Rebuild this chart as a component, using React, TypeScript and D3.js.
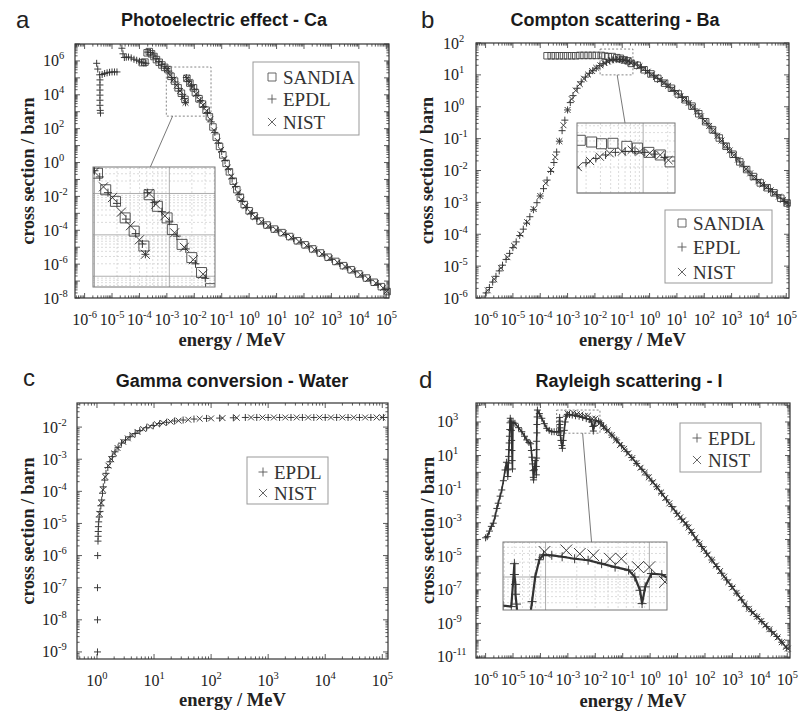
import React from "react";
import * as d3 from "d3";

// All values: [log10(energy / MeV), log10(cross section / barn)].
type P = [number, number];

// ---------------- a: Photoelectric effect - Ca ----------------
const aSandia: P[] = [
  [-3.9, 5.9], [-3.8, 5.93], [-3.72, 6.48], [-3.64, 6.55], [-3.56, 6.42], [-3.47, 6.26], [-3.38, 6.08], [-3.28, 5.92], [-3.18, 5.76], [-3.08, 5.62],
  [-2.96, 5.49], [-2.85, 5.09], [-2.72, 4.81], [-2.59, 4.41], [-2.47, 4.09], [-2.34, 3.73],
  [-2.27, 4.97], [-2.16, 4.69], [-2.03, 4.41], [-1.96, 4.13], [-1.83, 3.77], [-1.7, 3.45], [-1.57, 3.09],
  [-1.45, 2.7], [-1.32, 2.1], [-1.2, 1.5], [-1.08, 0.95], [-0.96, 0.45], [-0.84, -0.05], [-0.72, -0.55], [-0.58, -1.1], [-0.45, -1.6],
  [-0.32, -2.05], [-0.18, -2.48], [0.0, -2.85], [0.18, -3.15], [0.4, -3.45], [0.65, -3.69], [0.92, -3.93], [1.2, -4.14], [1.48, -4.37],
  [1.76, -4.62], [2.04, -4.86], [2.32, -5.1], [2.6, -5.34], [2.88, -5.59], [3.16, -5.84], [3.44, -6.09], [3.72, -6.33], [4.0, -6.58],
  [4.28, -6.82], [4.56, -7.07], [4.82, -7.33], [5.03, -7.62],
];
const aEpdl: P[] = [
  [-5.56, 5.86], [-5.52, 5.52], [-5.45, 5.18], [-5.44, 4.88], [-5.44, 4.58], [-5.44, 4.28], [-5.44, 3.98], [-5.44, 3.68], [-5.44, 3.38], [-5.43, 3.08], [-5.42, 2.92],
  [-5.36, 5.2], [-5.27, 5.26], [-5.18, 5.3], [-5.09, 5.33], [-5.0, 5.35], [-4.91, 5.35], [-4.82, 5.35],
  [-4.64, 6.75], [-4.6, 6.42], [-4.55, 6.2], [-4.48, 6.22], [-4.4, 6.23], [-4.3, 6.18], [-4.2, 6.1], [-4.1, 6.04], [-4.0, 5.98], [-3.92, 5.92], [-3.84, 5.88], [-3.76, 5.86],
  [-3.7, 6.52], [-3.6, 6.5], [-3.5, 6.35], [-3.4, 6.15], [-3.3, 5.97], [-3.2, 5.8], [-3.1, 5.66], [-3.0, 5.55],
  [-2.93, 5.4], [-2.82, 5.02], [-2.7, 4.76], [-2.58, 4.38], [-2.45, 4.03], [-2.36, 3.78], [-2.32, 3.53],
  [-2.29, 5.02], [-2.2, 4.78], [-2.1, 4.56], [-2.0, 4.33], [-1.9, 3.97], [-1.78, 3.66], [-1.65, 3.3], [-1.52, 2.95],
  [-1.38, 2.4], [-1.25, 1.78], [-1.12, 1.15], [-1.0, 0.65], [-0.88, 0.12], [-0.76, -0.4], [-0.62, -0.95], [-0.5, -1.42], [-0.37, -1.88],
  [-0.25, -2.3], [-0.1, -2.65], [0.08, -3.0], [0.28, -3.3], [0.52, -3.58], [0.78, -3.82], [1.06, -4.04], [1.34, -4.25], [1.62, -4.5],
  [1.9, -4.74], [2.18, -4.98], [2.46, -5.22], [2.74, -5.46], [3.02, -5.72], [3.3, -5.96], [3.58, -6.21], [3.86, -6.45], [4.14, -6.7],
  [4.42, -6.95], [4.7, -7.2], [4.95, -7.5],
];
const aNist: P[] = [
  [-3.0, 5.52], [-2.88, 5.16], [-2.76, 4.9], [-2.64, 4.55], [-2.52, 4.22], [-2.4, 3.88], [-2.32, 3.53],
  [-2.27, 5.0], [-2.18, 4.74], [-2.06, 4.46], [-1.93, 4.05], [-1.8, 3.7], [-1.68, 3.4], [-1.55, 3.05],
  [-1.42, 2.55], [-1.28, 1.9], [-1.15, 1.28], [-1.02, 0.75], [-0.9, 0.22], [-0.78, -0.3], [-0.65, -0.82], [-0.52, -1.35], [-0.4, -1.78],
  [-0.28, -2.2], [-0.14, -2.58], [0.04, -2.92], [0.22, -3.22], [0.45, -3.5], [0.7, -3.74], [0.98, -3.97], [1.26, -4.18], [1.54, -4.42],
  [1.82, -4.67], [2.1, -4.91], [2.38, -5.15], [2.66, -5.4], [2.94, -5.64], [3.22, -5.89], [3.5, -6.14], [3.78, -6.38], [4.06, -6.63],
  [4.34, -6.87], [4.62, -7.12], [4.88, -7.4], [5.02, -7.6],
];

// ---------------- b: Compton scattering - Ba ----------------
const bSandia: P[] = [
  [-3.75, 1.6], [-3.6, 1.6], [-3.45, 1.6], [-3.3, 1.6], [-3.15, 1.6], [-3.0, 1.6], [-2.85, 1.6], [-2.7, 1.6], [-2.55, 1.61], [-2.4, 1.61],
  [-2.25, 1.61], [-2.1, 1.61], [-1.95, 1.61], [-1.77, 1.61], [-1.63, 1.59], [-1.51, 1.57], [-1.37, 1.575], [-1.2, 1.54], [-1.07, 1.52],
  [-0.93, 1.47], [-0.79, 1.44], [-0.67, 1.36], [-0.45, 1.3], [-0.2, 1.16], [0.05, 1.03], [0.3, 0.89], [0.55, 0.74], [0.8, 0.58],
  [1.05, 0.4], [1.3, 0.22], [1.55, 0.02], [1.8, -0.22], [2.05, -0.47], [2.3, -0.72], [2.55, -0.98], [2.8, -1.24], [3.05, -1.49],
  [3.3, -1.73], [3.55, -1.97], [3.8, -2.19], [4.05, -2.39], [4.3, -2.54], [4.55, -2.7], [4.8, -2.87], [5.03, -3.02],
];
const bEpdl: P[] = [
  [-5.98, -5.84], [-5.86, -5.67], [-5.74, -5.5], [-5.62, -5.32], [-5.5, -5.15], [-5.38, -4.97], [-5.25, -4.79], [-5.12, -4.6], [-5.0, -4.42],
  [-4.88, -4.24], [-4.75, -4.04], [-4.62, -3.84], [-4.5, -3.65], [-4.38, -3.45], [-4.25, -3.23], [-4.12, -3.01], [-4.0, -2.8], [-3.88, -2.57],
  [-3.75, -2.3], [-3.62, -2.03], [-3.5, -1.75], [-3.4, -1.42], [-3.3, -1.08], [-3.2, -0.75], [-3.1, -0.42], [-3.0, -0.1], [-2.9, 0.13],
  [-2.8, 0.35], [-2.65, 0.58], [-2.5, 0.78], [-2.35, 0.93], [-2.2, 1.05], [-2.08, 1.13], [-1.95, 1.21], [-1.82, 1.29], [-1.7, 1.35],
  [-1.58, 1.4], [-1.46, 1.44], [-1.34, 1.47], [-1.22, 1.48], [-1.1, 1.48], [-0.98, 1.47], [-0.86, 1.45], [-0.74, 1.41], [-0.6, 1.37],
  [-0.45, 1.31], [-0.3, 1.23], [-0.15, 1.14], [0.0, 1.06], [0.15, 0.97], [0.3, 0.89], [0.45, 0.8], [0.6, 0.71], [0.75, 0.61], [0.9, 0.51],
  [1.05, 0.4], [1.2, 0.29], [1.35, 0.18], [1.5, 0.06], [1.65, -0.07], [1.8, -0.22], [1.95, -0.37], [2.1, -0.52], [2.25, -0.67], [2.4, -0.83],
  [2.55, -0.98], [2.7, -1.14], [2.85, -1.29], [3.0, -1.44], [3.15, -1.59], [3.3, -1.73], [3.45, -1.88], [3.6, -2.02], [3.75, -2.16],
  [3.9, -2.28], [4.05, -2.39], [4.2, -2.48], [4.35, -2.57], [4.5, -2.67], [4.65, -2.76], [4.8, -2.87], [4.95, -2.97], [5.03, -3.02],
];
const bNist: P[] = [
  [-5.92, -5.76], [-5.68, -5.41], [-5.44, -5.06], [-5.2, -4.72], [-4.96, -4.36], [-4.72, -4.0], [-4.48, -3.62], [-4.24, -3.21], [-4.0, -2.8],
  [-3.8, -2.4], [-3.6, -1.98], [-3.45, -1.58], [-3.3, -1.08], [-3.15, -0.58], [-3.0, -0.1], [-2.85, 0.24], [-2.7, 0.51], [-2.55, 0.71],
  [-2.4, 0.88], [-2.25, 1.01], [-2.1, 1.12], [-1.95, 1.22], [-1.8, 1.3], [-1.65, 1.37], [-1.53, 1.42], [-1.41, 1.46], [-1.26, 1.48],
  [-1.14, 1.5], [-1.04, 1.48], [-0.92, 1.46], [-0.79, 1.44], [-0.69, 1.38], [-0.52, 1.34], [-0.37, 1.27], [-0.22, 1.18], [-0.07, 1.1],
  [0.08, 1.01], [0.23, 0.93], [0.38, 0.84], [0.53, 0.75], [0.68, 0.66], [0.83, 0.56], [0.98, 0.45], [1.13, 0.34], [1.28, 0.23], [1.43, 0.12],
  [1.58, -0.01], [1.73, -0.15], [1.88, -0.3], [2.03, -0.45], [2.18, -0.6], [2.33, -0.75], [2.48, -0.91], [2.63, -1.06], [2.78, -1.22],
  [2.93, -1.37], [3.08, -1.52], [3.23, -1.66], [3.38, -1.81], [3.53, -1.95], [3.68, -2.09], [3.83, -2.22], [3.98, -2.34], [4.13, -2.44],
  [4.28, -2.53], [4.43, -2.62], [4.58, -2.72], [4.73, -2.82], [4.88, -2.92], [5.02, -3.01],
];

// ---------------- c: Gamma conversion - Water ----------------
const cEpdl: P[] = [
  [0.009, -9.0], [0.009, -8.0], [0.009, -7.0], [0.012, -6.0], [0.018, -5.55], [0.02, -5.4], [0.022, -5.25], [0.025, -5.1], [0.03, -4.95],
  [0.04, -4.8], [0.053, -4.63], [0.068, -4.45], [0.083, -4.27], [0.097, -4.06], [0.111, -3.86], [0.135, -3.65], [0.158, -3.44], [0.19, -3.26],
  [0.228, -3.08], [0.27, -2.92], [0.316, -2.77], [0.37, -2.63], [0.43, -2.5], [0.5, -2.4], [0.58, -2.3], [0.67, -2.2], [0.75, -2.11],
  [0.87, -2.02], [0.987, -1.95], [1.1, -1.89], [1.22, -1.85], [1.36, -1.81], [1.51, -1.78], [1.7, -1.75], [1.92, -1.73], [2.15, -1.72],
  [2.39, -1.71], [2.6, -1.7], [2.8, -1.7], [3.0, -1.7], [3.2, -1.7], [3.4, -1.7], [3.6, -1.7], [3.8, -1.7], [4.0, -1.7], [4.2, -1.7],
  [4.4, -1.7], [4.6, -1.7], [4.8, -1.7], [5.02, -1.7],
];
const cNist: P[] = [
  [0.045, -4.7], [0.075, -4.36], [0.105, -3.95], [0.145, -3.55], [0.2, -3.2], [0.25, -3.0], [0.3, -2.82], [0.36, -2.65], [0.46, -2.46],
  [0.54, -2.35], [0.62, -2.25], [0.71, -2.15], [0.81, -2.06], [0.93, -1.98], [1.05, -1.91], [1.16, -1.87], [1.29, -1.83], [1.43, -1.8],
  [1.6, -1.77], [1.8, -1.74], [2.0, -1.73], [2.2, -1.72], [2.45, -1.71], [2.7, -1.7], [2.9, -1.7], [3.1, -1.7], [3.3, -1.7], [3.5, -1.7],
  [3.7, -1.7], [3.9, -1.7], [4.1, -1.7], [4.3, -1.7], [4.5, -1.7], [4.7, -1.7], [4.9, -1.7], [5.0, -1.7],
];

// ---------------- d: Rayleigh scattering - I ----------------
const dEpdl: P[] = [
  [-6.0, -3.9], [-5.94, -3.83], [-5.86, -3.5], [-5.79, -3.22], [-5.72, -3.03], [-5.65, -2.6], [-5.59, -2.15], [-5.54, -1.84], [-5.47, -1.42],
  [-5.41, -1.05], [-5.35, -0.5], [-5.29, 0.14], [-5.24, 0.6],
  [-5.19, -0.25], [-5.18, 0.15], [-5.17, 0.55], [-5.16, 0.95], [-5.15, 1.35], [-5.14, 1.75], [-5.13, 2.15], [-5.12, 2.55], [-5.11, 2.95],
  [-5.1, 3.22], [-5.07, 3.05], [-5.06, 2.5], [-5.05, 1.9], [-5.04, 1.3], [-5.03, 0.7], [-5.02, 0.2], [-5.0, 2.98],
  [-4.93, 2.92], [-4.8, 2.66], [-4.68, 2.42], [-4.58, 2.15], [-4.5, 1.93], [-4.42, 1.78],
  [-4.36, 1.7], [-4.33, 1.3], [-4.31, 0.9], [-4.29, 0.5], [-4.27, 0.1], [-4.26, -0.3], [-4.25, -0.45], [-4.22, 0.15], [-4.19, 0.7],
  [-4.15, -0.15], [-4.15, 0.35], [-4.14, 0.85], [-4.14, 1.35], [-4.14, 1.85], [-4.13, 2.35], [-4.13, 2.85], [-4.12, 3.3], [-4.11, 3.71],
  [-4.04, 3.5], [-3.95, 3.22], [-3.86, 2.9], [-3.77, 2.62], [-3.68, 2.5], [-3.59, 2.42], [-3.5, 2.42], [-3.41, 2.42], [-3.33, 2.4],
  [-3.3, 3.27], [-3.3, 3.05], [-3.29, 2.85], [-3.29, 2.65], [-3.28, 2.45], [-3.27, 2.2], [-3.25, 1.9], [-3.22, 1.6], [-3.2, 1.43],
  [-3.17, 1.9], [-3.13, 2.5], [-3.1, 3.0], [-3.06, 3.35], [-3.02, 3.45], [-2.94, 3.44], [-2.84, 3.41], [-2.72, 3.37], [-2.59, 3.34],
  [-2.46, 3.27], [-2.33, 3.2], [-2.2, 3.14], [-2.14, 3.0], [-2.09, 2.73], [-2.07, 2.46], [-2.04, 2.8], [-1.98, 3.07], [-1.88, 3.05],
  [-1.8, 2.95], [-1.7, 2.75], [-1.58, 2.52], [-1.4, 2.22], [-1.22, 1.93], [-1.04, 1.58], [-0.85, 1.23], [-0.67, 0.88], [-0.49, 0.53],
  [-0.3, 0.18], [-0.12, -0.16], [0.06, -0.51], [0.24, -0.86], [0.42, -1.25], [0.6, -1.64], [0.79, -2.04], [0.97, -2.44], [1.15, -2.79],
  [1.33, -3.13], [1.52, -3.58], [1.7, -4.02], [1.88, -4.42], [2.06, -4.82], [2.25, -5.22], [2.43, -5.61], [2.61, -6.01], [2.79, -6.41],
  [2.98, -6.8], [3.16, -7.2], [3.34, -7.6], [3.52, -8.0], [3.7, -8.3], [3.89, -8.59], [4.07, -8.89], [4.25, -9.19], [4.43, -9.49],
  [4.62, -9.78], [4.8, -10.12], [4.98, -10.47],
];
const dNist: P[] = [
  [-3.01, 3.51], [-2.8, 3.54], [-2.67, 3.47], [-2.54, 3.44], [-2.38, 3.37], [-2.27, 3.37], [-2.11, 3.2], [-2.0, 3.2], [-1.85, 2.9],
  [-1.7, 2.68], [-1.55, 2.5], [-1.4, 2.22], [-1.25, 1.9], [-1.1, 1.62], [-0.95, 1.4], [-0.8, 1.13], [-0.65, 0.85], [-0.5, 0.55],
  [-0.35, 0.27], [-0.2, -0.02], [-0.05, -0.3], [0.1, -0.59], [0.25, -0.88], [0.4, -1.2], [0.55, -1.53], [0.7, -1.85], [0.85, -2.18],
  [1.0, -2.5], [1.1, -2.68], [1.2, -2.86], [1.3, -3.06], [1.4, -3.29], [1.5, -3.53], [1.65, -3.9], [1.8, -4.25], [1.95, -4.58],
  [2.1, -4.9], [2.25, -5.22], [2.4, -5.55], [2.55, -5.88], [2.7, -6.21], [2.85, -6.54], [3.0, -6.86], [3.15, -7.18], [3.3, -7.5],
  [3.45, -7.84], [3.6, -8.13], [3.75, -8.37], [3.9, -8.6], [4.05, -8.86], [4.2, -9.11], [4.35, -9.35], [4.5, -9.59], [4.65, -9.83],
  [4.8, -10.12], [4.95, -10.4], [5.02, -10.5],
];

// ---------------- tick label exponents ----------------
const xExpWide = [-6, -5, -4, -3, -2, -1, 0, 1, 2, 3, 4, 5];
const xExpC = [0, 1, 2, 3, 4, 5];
const yExpA = [-8, -6, -4, -2, 0, 2, 4, 6];
const yExpB = [-6, -5, -4, -3, -2, -1, 0, 1, 2];
const yExpC = [-9, -8, -7, -6, -5, -4, -3, -2];
const yExpD = [-11, -9, -7, -5, -3, -1, 1, 3];

const titles = ["Photoelectric effect - Ca", "Compton scattering - Ba", "Gamma conversion - Water", "Rayleigh scattering - I"];
const letters = ["a", "b", "c", "d"];

// zoom windows of the insets (log10 E, log10 sigma)
const aZoomE: [number, number] = [-3.02, -1.39];
const aZoomS: [number, number] = [2.74, 5.64];
const bZoomE: [number, number] = [-1.81, -0.61];
const bZoomS: [number, number] = [1.0, 1.81];
const dZoomE: [number, number] = [-3.41, -1.83];
const dZoomS: [number, number] = [2.33, 3.71];

// ---------------- drawing helpers ----------------
type Kind = "square" | "plus" | "cross";
const SERIF = "'Liberation Serif', 'Times New Roman', serif";
const SANS = "'Liberation Sans', Arial, sans-serif";
const INK = "#333";

function mk(kind: Kind, x: number, y: number, s: number): string {
  const h = s / 2;
  if (kind === "square") return `M${x - h},${y - h}h${s}v${s}h${-s}Z`;
  if (kind === "plus") return `M${x - h},${y}h${s}M${x},${y - h}v${s}`;
  const c = h * 0.9;
  return `M${x - c},${y - c}L${x + c},${y + c}M${x - c},${y + c}L${x + c},${y - c}`;
}

function logTicks(lo: number, hi: number) {
  const major: number[] = [];
  const minor: number[] = [];
  for (let k = Math.floor(lo); k <= Math.ceil(hi); k++) {
    if (k >= lo - 1e-9 && k <= hi + 1e-9) major.push(k);
    for (let m = 2; m <= 9; m++) {
      const v = k + Math.log10(m);
      if (v > lo && v < hi) minor.push(v);
    }
  }
  return { major, minor };
}

interface Frame { x0: number; x1: number; y0: number; y1: number; }
interface Series { kind: Kind; data: P[]; size: number; insetSize: number; stroke: string; width: number; line?: boolean; }
interface InsetCfg { frame: Frame; xd: [number, number]; yd: [number, number]; fb: number; fi: number; }
interface LegendCfg { box: { x: number; y: number; w: number; h: number }; entries: { kind: Kind; label: string; y: number }[]; mx: number; tx: number; }
interface PanelCfg {
  id: string; frame: Frame; xd: [number, number]; yd: [number, number];
  xExp: number[]; yExp: number[]; series: Series[]; inset?: InsetCfg; legend: LegendCfg;
  title: string; titleX: number; titleY: number; letter: string; letterX: number; letterY: number;
  yTitleX: number; xTitleY: number; yLabelX: number;
}

function scales(f: Frame, xd: [number, number], yd: [number, number]) {
  const x = d3.scaleLog().domain([10 ** xd[0], 10 ** xd[1]]).range([f.x0, f.x1]);
  const y = d3.scaleLog().domain([10 ** yd[0], 10 ** yd[1]]).range([f.y1, f.y0]);
  return { x, y };
}

function SeriesMarks({ s, x, y, inset }: { s: Series; x: any; y: any; inset: boolean }) {
  const size = inset ? s.insetSize : s.size;
  const d = s.data.map((p) => mk(s.kind, x(10 ** p[0]), y(10 ** p[1]), size)).join("");
  const line = s.line
    ? d3.line<P>().x((p) => x(10 ** p[0])).y((p) => y(10 ** p[1]))(s.data) || ""
    : "";
  return (
    <g>
      {s.line && <path d={line} fill="none" stroke={s.stroke} strokeWidth={inset ? 2.2 : 1.6} strokeLinejoin="round" />}
      <path d={d} fill="none" stroke={s.stroke} strokeWidth={s.width} />
    </g>
  );
}

function Ticks({ f, xd, yd, x, y }: { f: Frame; xd: [number, number]; yd: [number, number]; x: any; y: any }) {
  const xt = logTicks(xd[0], xd[1]);
  const yt = logTicks(yd[0], yd[1]);
  let d = "";
  const M = 5, m = 2.6;
  xt.major.forEach((k) => { const X = x(10 ** k); d += `M${X},${f.y1}v${-M}M${X},${f.y0}v${M}`; });
  xt.minor.forEach((k) => { const X = x(10 ** k); d += `M${X},${f.y1}v${-m}M${X},${f.y0}v${m}`; });
  yt.major.forEach((k) => { const Y = y(10 ** k); d += `M${f.x0},${Y}h${M}M${f.x1},${Y}h${-M}`; });
  yt.minor.forEach((k) => { const Y = y(10 ** k); d += `M${f.x0},${Y}h${m}M${f.x1},${Y}h${-m}`; });
  return <path d={d} stroke="#333" strokeWidth={0.8} fill="none" />;
}

function Pow({ x, y, e, anchor }: { x: number; y: number; e: number; anchor: "middle" | "start" }) {
  return (
    <text x={x} y={y} textAnchor={anchor} fontFamily={SERIF} fontSize={16} fill="#222">
      10<tspan dy={-7} fontSize={10.5}>{String(e)}</tspan>
    </text>
  );
}

function Inset({ cfg, mainX, mainY, series, id }: { cfg: InsetCfg; mainX: any; mainY: any; series: Series[]; id: string }) {
  const f = cfg.frame;
  const { x, y } = scales(f, cfg.xd, cfg.yd);
  const bx0 = mainX(10 ** cfg.xd[0]), bx1 = mainX(10 ** cfg.xd[1]);
  const by0 = mainY(10 ** cfg.yd[1]), by1 = mainY(10 ** cfg.yd[0]);
  const xt = logTicks(cfg.xd[0], cfg.xd[1]);
  const yt = logTicks(cfg.yd[0], cfg.yd[1]);
  return (
    <g>
      <rect x={bx0} y={by0} width={bx1 - bx0} height={by1 - by0} fill="none" stroke="#666" strokeWidth={0.8} strokeDasharray="2,2" />
      <line x1={bx0 + (bx1 - bx0) * cfg.fb} y1={by1} x2={f.x0 + (f.x1 - f.x0) * cfg.fi} y2={f.y0} stroke="#555" strokeWidth={0.8} />
      <rect x={f.x0} y={f.y0} width={f.x1 - f.x0} height={f.y1 - f.y0} fill="#fff" />
      <clipPath id={id}>
        <rect x={f.x0} y={f.y0} width={f.x1 - f.x0} height={f.y1 - f.y0} />
      </clipPath>
      <g stroke="#c4c4c4" strokeWidth={0.6} strokeDasharray="2,2">
        {xt.minor.map((k) => <line key={"vx" + k} x1={x(10 ** k)} x2={x(10 ** k)} y1={f.y0} y2={f.y1} />)}
        {yt.minor.map((k) => <line key={"hy" + k} y1={y(10 ** k)} y2={y(10 ** k)} x1={f.x0} x2={f.x1} />)}
      </g>
      <g stroke="#999" strokeWidth={0.8}>
        {xt.major.map((k) => <line key={"VX" + k} x1={x(10 ** k)} x2={x(10 ** k)} y1={f.y0} y2={f.y1} />)}
        {yt.major.map((k) => <line key={"HY" + k} y1={y(10 ** k)} y2={y(10 ** k)} x1={f.x0} x2={f.x1} />)}
      </g>
      <g clipPath={`url(#${id})`}>
        {series.map((s, i) => <SeriesMarks key={i} s={s} x={x} y={y} inset={true} />)}
      </g>
      <rect x={f.x0} y={f.y0} width={f.x1 - f.x0} height={f.y1 - f.y0} fill="none" stroke="#777" strokeWidth={1} />
    </g>
  );
}

function Legend({ cfg }: { cfg: LegendCfg }) {
  const b = cfg.box;
  return (
    <g>
      <rect x={b.x} y={b.y} width={b.w} height={b.h} fill="#fff" stroke="#999" strokeWidth={1} />
      {cfg.entries.map((e) => (
        <g key={e.label}>
          <path d={mk(e.kind, cfg.mx, e.y, e.kind === "square" ? 8 : 9)} fill="none" stroke="#555" strokeWidth={0.9} />
          <text x={cfg.tx} y={e.y + 6.5} fontFamily={SERIF} fontSize={19} fill="#333">{e.label}</text>
        </g>
      ))}
    </g>
  );
}

function Panel({ c }: { c: PanelCfg }) {
  const f = c.frame;
  const { x, y } = scales(f, c.xd, c.yd);
  const cy = (f.y0 + f.y1) / 2;
  return (
    <g>
      <clipPath id={"clip" + c.id}>
        <rect x={f.x0 - 3} y={f.y0 - 3} width={f.x1 - f.x0 + 6} height={f.y1 - f.y0 + 6} />
      </clipPath>
      <g clipPath={`url(#clip${c.id})`}>
        {c.series.map((s, i) => <SeriesMarks key={i} s={s} x={x} y={y} inset={false} />)}
      </g>
      <rect x={f.x0} y={f.y0} width={f.x1 - f.x0} height={f.y1 - f.y0} fill="none" stroke="#333" strokeWidth={1.2} />
      <Ticks f={f} xd={c.xd} yd={c.yd} x={x} y={y} />
      {c.xExp.map((e) => <Pow key={"x" + e} x={x(10 ** e)} y={f.y1 + 27} e={e} anchor="middle" />)}
      {c.yExp.map((e) => <Pow key={"y" + e} x={c.yLabelX} y={y(10 ** e) + 5.5} e={e} anchor="start" />)}
      {c.inset && <Inset cfg={c.inset} mainX={x} mainY={y} series={c.series} id={"inset" + c.id} />}
      <Legend cfg={c.legend} />
      <text x={c.titleX} y={c.titleY} textAnchor="middle" fontFamily={SANS} fontWeight="bold" fontSize={18} fill="#1a1a1a">{c.title}</text>
      <text x={c.letterX} y={c.letterY} fontFamily={SANS} fontSize={24} fill="#222">{c.letter}</text>
      <text transform={`translate(${c.yTitleX},${cy}) rotate(-90)`} textAnchor="middle" fontFamily={SERIF} fontWeight="bold" fontSize={18} fill="#222">cross section / barn</text>
      <text x={(f.x0 + f.x1) / 2} y={c.xTitleY} textAnchor="middle" fontFamily={SERIF} fontWeight="bold" fontSize={18.5} fill="#222">energy / MeV</text>
    </g>
  );
}

const SQ = (data: P[]): Series => ({ kind: "square", data, size: 6.5, insetSize: 10, stroke: "#444", width: 0.9 });
const PL = (data: P[], line = false, ins = 8): Series => ({ kind: "plus", data, size: 7, insetSize: ins, stroke: INK, width: 0.95, line });
const CR = (data: P[], ins = 9): Series => ({ kind: "cross", data, size: 6.5, insetSize: ins, stroke: INK, width: 0.95 });

const panelsCfg: PanelCfg[] = [
  {
    id: "a", frame: { x0: 75, x1: 389, y0: 44, y1: 298 }, xd: [-6.35, 5.1], yd: [-8, 7],
    xExp: xExpWide, yExp: yExpA,
    series: [SQ(aSandia), PL(aEpdl), CR(aNist, 10)],
    inset: { frame: { x0: 93, x1: 215, y0: 167, y1: 287 }, xd: aZoomE, yd: aZoomS, fb: 0.14, fi: 0.47 },
    legend: {
      box: { x: 253, y: 62, w: 106, h: 73 },
      entries: [{ kind: "square", label: "SANDIA", y: 77 }, { kind: "plus", label: "EPDL", y: 99 }, { kind: "cross", label: "NIST", y: 122 }],
      mx: 272, tx: 283,
    },
    title: titles[0], titleX: 224, titleY: 26, letter: letters[0], letterX: 16, letterY: 28, yTitleX: 34, xTitleY: 346, yLabelX: 43,
  },
  {
    id: "b", frame: { x0: 476, x1: 789, y0: 43, y1: 298 }, xd: [-6.35, 5.1], yd: [-6, 2],
    xExp: xExpWide, yExp: yExpB,
    series: [SQ(bSandia), PL(bEpdl), CR(bNist, 9)],
    inset: { frame: { x0: 577, x1: 675, y0: 123, y1: 193 }, xd: bZoomE, yd: bZoomS, fb: 0.52, fi: 0.49 },
    legend: {
      box: { x: 665, y: 210, w: 107, h: 73 },
      entries: [{ kind: "square", label: "SANDIA", y: 223 }, { kind: "plus", label: "EPDL", y: 247 }, { kind: "cross", label: "NIST", y: 272 }],
      mx: 682, tx: 693,
    },
    title: titles[1], titleX: 615, titleY: 26, letter: letters[1], letterX: 421, letterY: 28, yTitleX: 433, xTitleY: 346, yLabelX: 443,
  },
  {
    id: "c", frame: { x0: 77, x1: 388, y0: 403, y1: 659 }, xd: [-0.35, 5.1], yd: [-9.22, -1.25],
    xExp: xExpC, yExp: yExpC,
    series: [PL(cEpdl), CR(cNist)],
    legend: {
      box: { x: 247, y: 457, w: 81, h: 47 },
      entries: [{ kind: "plus", label: "EPDL", y: 472 }, { kind: "cross", label: "NIST", y: 493 }],
      mx: 263, tx: 274,
    },
    title: titles[2], titleX: 232, titleY: 387, letter: letters[2], letterX: 23, letterY: 386, yTitleX: 34, xTitleY: 706, yLabelX: 42,
  },
  {
    id: "d", frame: { x0: 476, x1: 790, y0: 403, y1: 658 }, xd: [-6.35, 5.1], yd: [-11.06, 4.13],
    xExp: xExpWide, yExp: yExpD,
    series: [PL(dEpdl, true, 9), CR(dNist, 13)],
    inset: { frame: { x0: 503, x1: 667, y0: 542, y1: 610 }, xd: dZoomE, yd: dZoomS, fb: 0.6, fi: 0.54 },
    legend: {
      box: { x: 680, y: 423, w: 81, h: 49 },
      entries: [{ kind: "plus", label: "EPDL", y: 438 }, { kind: "cross", label: "NIST", y: 460 }],
      mx: 697, tx: 708,
    },
    title: titles[3], titleX: 629, titleY: 387, letter: letters[3], letterX: 419, letterY: 388, yTitleX: 434, xTitleY: 707, yLabelX: 437,
  },
];

export default function App() {
  return (
    <svg width={801} height={713} viewBox="0 0 801 713"
      style={{ position: "absolute", left: 0, top: 0, display: "block", background: "#fff" }}>
      <rect x={0} y={0} width={801} height={713} fill="#fff" />
      {panelsCfg.map((c) => <Panel key={c.id} c={c} />)}
    </svg>
  );
}
